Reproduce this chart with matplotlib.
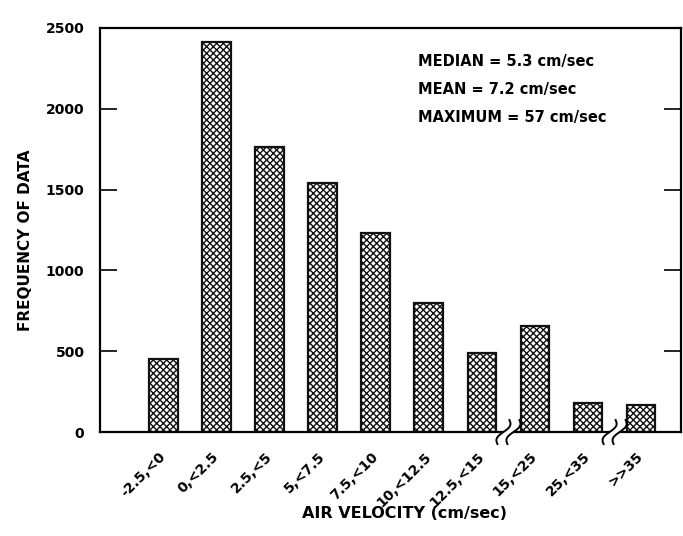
import numpy as np
import matplotlib.pyplot as plt
import matplotlib.transforms as mtransforms
from matplotlib.patches import Polygon

categories = ["-2.5,<0", "0,<2.5", "2.5,<5", "5,<7.5", "7.5,<10",
              "10,<12.5", "12.5,<15", "15,<25", "25,<35", ">>35"]
frequency = [450, 2410, 1760, 1540, 1230, 800, 490, 655, 180, 170]
y_ticks = [0, 500, 1000, 1500, 2000, 2500]
breaks_at = [6.5, 8.5]  # axis breaks between bins
stats = ["MEDIAN = 5.3 cm/sec", "MEAN = 7.2 cm/sec", "MAXIMUM = 57 cm/sec"]

plt.rcParams['font.family'] = ['DejaVu Sans']
plt.rcParams['font.weight'] = 'bold'
plt.rcParams['hatch.linewidth'] = 1.0
plt.rcParams['hatch.color'] = '#222222'

fig = plt.figure(figsize=(6.83, 5.36), dpi=100)
ax = fig.add_axes([0.146, 0.194, 0.851, 0.754])

x = np.arange(len(categories))
ax.bar(x, frequency, width=0.54, color="white", edgecolor="#111111",
       linewidth=1.6, hatch="xxxxx", zorder=2)

ax.set_xlim(-1.2, 9.75)
ax.set_ylim(0, 2500)
ax.set_yticks(y_ticks)
ax.set_yticklabels([str(t) for t in y_ticks], fontsize=10, fontweight="bold")
ax.tick_params(axis="y", which="both", direction="in", length=12, width=1.2,
               pad=11, right=True, labelright=False)

ax.set_xticks(x)
ax.set_xticklabels(categories, rotation=45, ha="right", va="center",
                   rotation_mode="anchor", fontsize=10, fontweight="bold")
ax.tick_params(axis="x", length=0, pad=16)

for sp in ax.spines.values():
    sp.set_linewidth(1.6)

ax.set_ylabel("FREQUENCY OF DATA", fontsize=11, fontweight="bold")
ax.yaxis.set_label_coords(-0.115, 0.475)
fig.text(0.592, 0.028, "AIR VELOCITY (cm/sec)", ha="center", va="bottom",
         fontsize=11.5, fontweight="bold")

for i, s in enumerate(stats):
    ax.text(0.547, 0.916 - i * 0.069, s, transform=ax.transAxes,
            fontsize=10.5, fontweight="bold", ha="left", va="center")

# axis break marks
s = np.linspace(-1, 1, 40)
for xb in breaks_at:
    trans = mtransforms.ScaledTranslation(xb, 0, ax.transData)
    cx = 6 * s + 3.5 * np.sin(np.pi * s)
    cy = 12 * s
    left = np.column_stack([cx - 5, cy])
    right = np.column_stack([cx + 5, cy])
    gap = Polygon(np.vstack([left, right[::-1]]), closed=True,
                  facecolor="white", edgecolor="none", transform=trans,
                  clip_on=False, zorder=4)
    ax.add_patch(gap)
    for c in (left, right):
        ax.plot(c[:, 0], c[:, 1], color="black", lw=1.4, transform=trans,
                clip_on=False, zorder=5)

fig.savefig("out.png", dpi=100)
